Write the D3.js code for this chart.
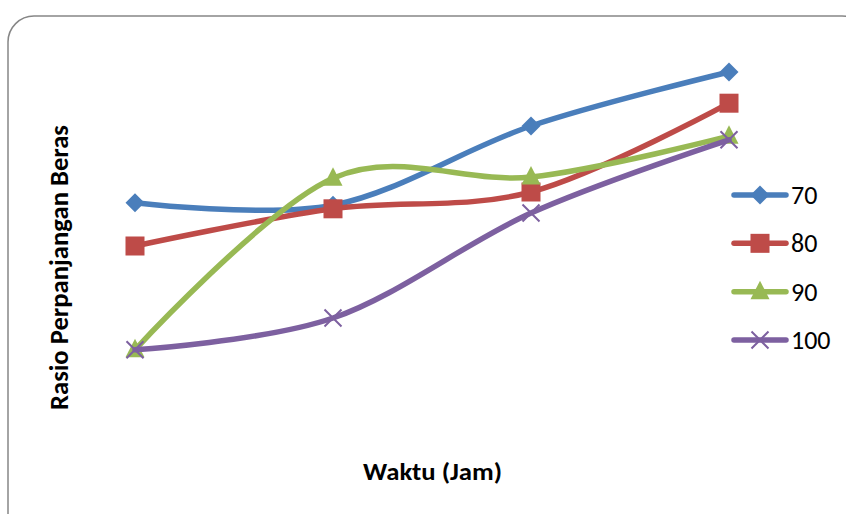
<!DOCTYPE html>
<html><head><meta charset="utf-8">
<script src="https://cdn.jsdelivr.net/npm/d3@7"></script>
<style>body{margin:0;background:#fff}svg{display:block}</style>
</head><body>
<svg id="c" width="846" height="514"></svg>
<script>
const categories = ["1", "2", "3", "4"];
const seriesNames = ["70", "80", "90", "100"];
const s70  = [1.412, 1.408, 1.540, 1.630];
const s80  = [1.340, 1.402, 1.430, 1.578];
const s90  = [1.167, 1.453, 1.455, 1.523];
const s100 = [1.167, 1.220, 1.395, 1.517];
const seriesValues = [s70, s80, s90, s100];
const colors = ["#4A7EBB", "#BE4B48", "#98B954", "#7D60A0"];
const markers = ["diamond", "square", "triangle", "x"];

const svg = d3.select("#c");
const font = "Carlito, 'Open Sans', sans-serif";

svg.append("rect").attr("x", 8).attr("y", 16).attr("width", 860).attr("height", 540)
  .attr("rx", 26).attr("fill", "#fff").attr("stroke", "#868686").attr("stroke-width", 1.5);

const x = d3.scalePoint().domain(categories).range([135, 729]);
const y = d3.scaleLinear().domain([1.0, 1.7]).range([450, 30]);

const line = d3.line().x((d, i) => x(categories[i])).y(d => y(d)).curve(d3.curveCardinal.tension(0));

function drawMarker(g, type, cx, cy, color) {
  if (type === "diamond") {
    const r = 9.5;
    g.append("path").attr("d", `M${cx},${cy-r}L${cx+r},${cy}L${cx},${cy+r}L${cx-r},${cy}Z`).attr("fill", color);
  } else if (type === "square") {
    g.append("rect").attr("x", cx - 9.5).attr("y", cy - 9.5).attr("width", 19).attr("height", 19).attr("fill", color);
  } else if (type === "triangle") {
    g.append("path").attr("d", `M${cx},${cy-11}L${cx+9.5},${cy+7.5}L${cx-9.5},${cy+7.5}Z`).attr("fill", color);
  } else {
    g.append("path").attr("d", `M${cx-8.5},${cy-8.5}L${cx+8.5},${cy+8.5}M${cx-8.5},${cy+8.5}L${cx+8.5},${cy-8.5}`)
      .attr("stroke", color).attr("stroke-width", 2);
  }
}

seriesValues.forEach((vals, si) => {
  const g = svg.append("g");
  g.append("path").attr("d", line(vals)).attr("fill", "none").attr("stroke", colors[si])
    .attr("stroke-width", 5.5).attr("stroke-linecap", "round");
  vals.forEach((v, i) => drawMarker(g, markers[si], x(categories[i]), y(v), colors[si]));
});

// legend
const legY = d3.scalePoint().domain(seriesNames).range([195, 340]);
seriesNames.forEach((n, si) => {
  const ly = legY(n);
  const g = svg.append("g");
  g.append("line").attr("x1", 734).attr("x2", 786).attr("y1", ly).attr("y2", ly)
    .attr("stroke", colors[si]).attr("stroke-width", 5.5).attr("stroke-linecap", "round");
  drawMarker(g, markers[si], 760, ly, colors[si]);
  g.append("text").attr("x", 791).attr("y", ly + 9).text(n)
    .attr("font-family", font).attr("font-size", 26).attr("fill", "#000");
});

svg.append("text").attr("transform", "translate(68,267.5) rotate(-90)").attr("text-anchor", "middle")
  .attr("font-family", font).attr("font-weight", "bold").attr("font-size", 26)
  .attr("textLength", 285).attr("lengthAdjust", "spacingAndGlyphs")
  .text("Rasio Perpanjangan Beras");

svg.append("text").attr("x", 432.5).attr("y", 480).attr("text-anchor", "middle")
  .attr("font-family", font).attr("font-weight", "bold").attr("font-size", 25)
  .attr("textLength", 139).attr("lengthAdjust", "spacingAndGlyphs")
  .text("Waktu (Jam)");
</script>
</body></html>
